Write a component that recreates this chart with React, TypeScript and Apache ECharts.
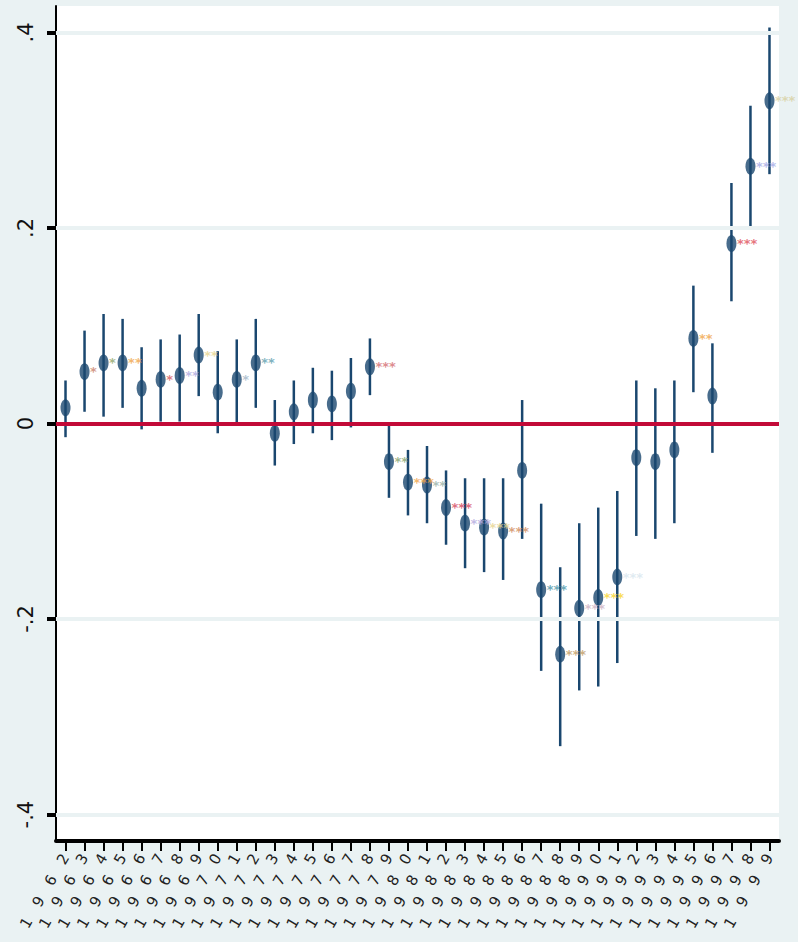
import React, { useEffect, useRef } from "react";
import * as echarts from "echarts";

const categories = [
  "1962", "1963", "1964", "1965", "1966", "1967", "1968", "1969", "1970", "1971",
  "1972", "1973", "1974", "1975", "1976", "1977", "1978", "1979", "1980", "1981",
  "1982", "1983", "1984", "1985", "1986", "1987", "1988", "1989", "1990", "1991",
  "1992", "1993", "1994", "1995", "1996", "1997", "1998", "1999",
];

const estimates = [
  0.016, 0.053, 0.062, 0.062, 0.036, 0.045, 0.049, 0.07, 0.032, 0.045,
  0.062, -0.01, 0.012, 0.024, 0.02, 0.033, 0.058, -0.039, -0.06, -0.063,
  -0.086, -0.102, -0.106, -0.11, -0.048, -0.17, -0.236, -0.189, -0.178, -0.157,
  -0.035, -0.039, -0.027, 0.087, 0.028, 0.184, 0.263, 0.33,
];

const ciLow = [
  -0.014, 0.012, 0.007, 0.016, -0.006, 0.002, 0.002, 0.028, -0.01, -0.002,
  0.016, -0.043, -0.021, -0.01, -0.017, -0.004, 0.029, -0.076, -0.094, -0.102,
  -0.124, -0.148, -0.152, -0.16, -0.118, -0.253, -0.33, -0.273, -0.269, -0.245,
  -0.115, -0.118, -0.102, 0.032, -0.03, 0.125, 0.2, 0.255,
];

const ciHigh = [
  0.044, 0.095, 0.112, 0.107, 0.078, 0.086, 0.091, 0.112, 0.074, 0.086,
  0.107, 0.024, 0.044, 0.057, 0.054, 0.067, 0.087, 0.0, -0.027, -0.023,
  -0.048, -0.056, -0.056, -0.056, 0.024, -0.082, -0.147, -0.102, -0.086, -0.069,
  0.044, 0.036, 0.044, 0.141, 0.082, 0.246, 0.325, 0.405,
];

// significance stars per category
const stars = [
  0, 1, 1, 2, 0, 1, 2, 2, 0, 1,
  2, 0, 0, 0, 0, 0, 3, 2, 3, 2,
  3, 3, 3, 3, 0, 3, 3, 3, 3, 3,
  0, 0, 0, 2, 0, 3, 3, 3,
];

const yTickValues = [-0.4, -0.2, 0, 0.2, 0.4];
const yTickLabels = ["-.4", "-.2", "0", ".2", ".4"];

// styles
const BG = "#EAF2F3";
const NAVY = "#1A476F";
const RED = "#C20A38";
const starColors = [
  "", "#C8806A", "#8FA468", "#F0A448", "", "#D45A5E", "#ABA8DE", "#E6D48E", "", "#A0B4C6",
  "#5E9EAE", "", "", "", "", "", "#D46E72", "#86A46E", "#F0A448", "#98B0A6",
  "#D4485E", "#B2A8DE", "#E6D48E", "#D08A5A", "", "#4A94A8", "#C09A62", "#CDB2C2", "#F8D42A", "#D8E6EE",
  "", "", "", "#F0A448", "", "#E0505A", "#A4AAE6", "#D8D0A0",
];

export default function App() {
  const ref = useRef<HTMLDivElement>(null);

  useEffect(() => {
    document.body.style.margin = "0";
    const chart = echarts.init(ref.current as HTMLDivElement, null, { renderer: "svg" });

    const starData = stars
      .map((n, i) => ({ n, i }))
      .filter((d) => d.n > 0)
      .map((d) => ({
        value: [d.i, estimates[d.i]],
        label: { formatter: "*".repeat(d.n), color: starColors[d.i] },
      }));

    chart.setOption({
      animation: false,
      backgroundColor: BG,
      grid: {
        left: 56,
        right: 19,
        top: 6,
        bottom: 101,
        show: true,
        backgroundColor: "#FFFFFF",
        borderWidth: 0,
      },
      xAxis: {
        type: "category",
        data: categories,
        boundaryGap: true,
        axisLine: { onZero: false, lineStyle: { color: "#000", width: 4 } },
        axisTick: { show: true, alignWithLabel: true, interval: 0, length: 10, lineStyle: { color: "#000", width: 2 } },
        axisLabel: {
          interval: 0,
          rotate: 60,
          fontSize: 15,
          margin: 14,
          color: "#222",
          fontFamily: "DejaVu Sans",
          formatter: (s: string) => s.split("").join("\u2002\u2002"),
        },
        splitLine: { show: false },
      },
      yAxis: {
        type: "value",
        min: -0.427,
        max: 0.427,
        axisLine: { show: true, lineStyle: { color: "#000", width: 2 } },
        axisTick: { show: true, length: 9, customValues: yTickValues, lineStyle: { color: "#000", width: 4 } },
        axisLabel: {
          customValues: yTickValues,
          rotate: 90,
          fontSize: 21,
          margin: 20,
          color: "#111",
          fontFamily: "DejaVu Sans",
          formatter: (v: number) => {
            const idx = yTickValues.findIndex((t) => Math.abs(t - v) < 1e-9);
            return idx >= 0 ? yTickLabels[idx] : "";
          },
        },
        splitLine: { show: false },
      },
      series: [
        {
          type: "line",
          data: [],
          z: 1,
          silent: true,
          markLine: {
            symbol: "none",
            silent: true,
            animation: false,
            label: { show: false },
            lineStyle: { color: BG, width: 4, type: "solid" },
            data: yTickValues.filter((v) => v !== 0).map((v) => ({ yAxis: v })),
          },
        },
        {
          type: "line",
          data: [],
          z: 1.5,
          silent: true,
          markLine: {
            symbol: "none",
            silent: true,
            animation: false,
            label: { show: false },
            lineStyle: { color: RED, width: 4, type: "solid" },
            data: [{ yAxis: 0 }],
          },
        },
        {
          type: "custom",
          z: 3,
          silent: true,
          data: categories.map((_, i) => [i, ciLow[i], ciHigh[i]]),
          encode: { x: 0, y: [1, 2] },
          renderItem: (params: any, api: any) => {
            const x = api.value(0);
            const lo = api.coord([x, api.value(1)]);
            const hi = api.coord([x, api.value(2)]);
            return {
              type: "line",
              shape: { x1: lo[0], y1: lo[1], x2: hi[0], y2: hi[1] },
              style: { stroke: NAVY, lineWidth: 2.5 },
            };
          },
        },
        {
          type: "scatter",
          z: 4,
          silent: true,
          symbol: "circle",
          symbolSize: [10, 17],
          itemStyle: { color: NAVY },
          data: estimates.map((v, i) => [i, v]),
        },
        {
          type: "scatter",
          z: 5,
          silent: true,
          symbol: "rect",
          symbolSize: 1,
          itemStyle: { color: "rgba(0,0,0,0)" },
          label: {
            show: true,
            position: "right",
            distance: 5,
            fontSize: 13,
            fontFamily: "DejaVu Sans",
            fontWeight: "bold",
          },
          data: starData,
        },
      ],
    });

    return () => chart.dispose();
  }, []);

  return (
    <div
      ref={ref}
      style={{ position: "absolute", left: 0, top: 0, width: 798, height: 942, background: BG }}
    />
  );
}
